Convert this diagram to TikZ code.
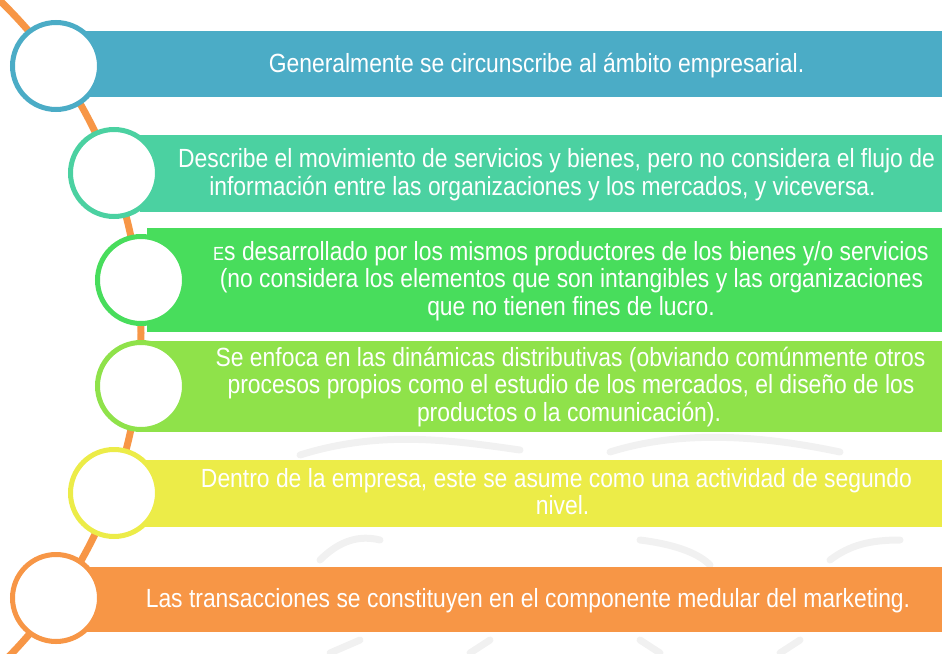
\documentclass[tikz,border=0pt]{standalone}
\usepackage{fontspec}
\setmainfont{Liberation Sans}[FakeStretch=0.87]
\definecolor{cA}{HTML}{4BACC6}
\definecolor{cB}{HTML}{4BD1A1}
\definecolor{cC}{HTML}{48DD5C}
\definecolor{cD}{HTML}{8FE24A}
\definecolor{cE}{HTML}{ECEC48}
\definecolor{cF}{HTML}{F79646}
\definecolor{wm}{HTML}{F1F1F1}
\begin{document}
\begin{tikzpicture}[x=1pt,y=-1pt,
  bar/.style={rectangle, inner sep=0pt, outer sep=0pt, anchor=north west},
  ring/.style={circle, fill=white, line width=5pt, minimum size=87pt, inner sep=0pt},
  txt/.style={text=white, inner sep=0pt, anchor=base, font=\fontsize{26.3}{27.5}\selectfont},
  wmark/.style={draw=wm, line width=7pt, line cap=round}]
\path[use as bounding box] (0,0) rectangle (944,653);
\begin{scope}
  \clip (0,0) rectangle (944,653);
  % faint watermark
  \draw[wmark] (300,455) .. controls (380,430) and (450,440) .. (520,450);
  \draw[wmark] (610,452) .. controls (680,430) and (760,435) .. (840,452);
  \draw[wmark] (320,560) .. controls (340,540) and (360,535) .. (380,540);
  \draw[wmark] (640,540) .. controls (680,545) and (700,555) .. (710,565);
  \draw[wmark] (830,560) .. controls (850,545) and (870,540) .. (900,540);
  \draw[wmark] (330,653) -- (360,640);
  \draw[wmark] (470,653) -- (490,640);
  \draw[wmark] (640,640) -- (660,653);
  \draw[wmark] (780,653) -- (800,640);
  % orange timeline arc
  \coordinate (arcc) at (-321,333);
  \draw[cF, line width=7pt] (arcc) circle (462pt);
\end{scope}
% bars
\node[bar, fill=cA, minimum width=857pt, minimum height=66pt] (b1) at (85,31) {};
\node[bar, fill=cB, minimum width=802pt, minimum height=77pt] (b2) at (140,135) {};
\node[bar, fill=cC, minimum width=795pt, minimum height=104pt] (b3) at (147,228) {};
\node[bar, fill=cD, minimum width=799pt, minimum height=91pt] (b4) at (143,341) {};
\node[bar, fill=cE, minimum width=812pt, minimum height=67pt] (b5) at (130,460) {};
\node[bar, fill=cF, minimum width=857pt, minimum height=65pt] (b6) at (85,567) {};
% rings
\node[ring, draw=cA] (k1) at (56,66) {};
\node[ring, draw=cB] (k2) at (114,173) {};
\node[ring, draw=cC] (k3) at (141,280) {};
\node[ring, draw=cD] (k4) at (141,386) {};
\node[ring, draw=cE] (k5) at (114,493) {};
\node[ring, draw=cF] (k6) at (56,598) {};
% texts
\node[txt] (t1) at (536.5,72) {Generalmente se circunscribe al ámbito empresarial.};
\node[txt] (t2a) at (556.5,167) {Describe el movimiento de servicios y bienes, pero no considera el flujo de};
\node[txt] (t2b) at (542.5,195) {información entre las organizaciones y los mercados, y viceversa.};
\node[txt] (t3a) at (571,260) {{\fontsize{19}{19}\selectfont E}s desarrollado por los mismos productores de los bienes y/o servicios};
\node[txt] (t3b) at (571.5,287.5) {(no considera los elementos que son intangibles y las organizaciones};
\node[txt] (t3c) at (571,315) {que no tienen fines de lucro.};
\node[txt] (t4a) at (570.5,366) {Se enfoca en las dinámicas distributivas (obviando comúnmente otros};
\node[txt] (t4b) at (571,393.5) {procesos propios como el estudio de los mercados, el diseño de los};
\node[txt] (t4c) at (569,421) {productos o la comunicación).};
\node[txt] (t5a) at (556.5,487) {Dentro de la empresa, este se asume como una actividad de segundo};
\node[txt] (t5b) at (562.5,514) {nivel.};
\node[txt] (t6) at (528,607) {Las transacciones se constituyen en el componente medular del marketing.};
\end{tikzpicture}
\end{document}
